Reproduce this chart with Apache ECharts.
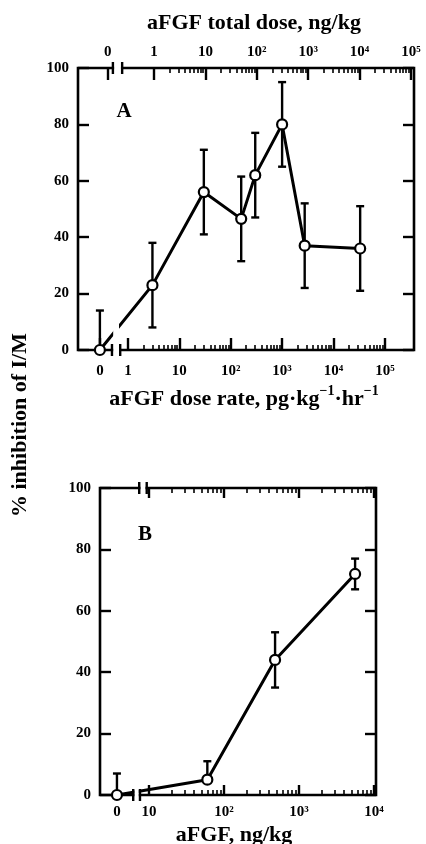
<!DOCTYPE html>
<html><head><meta charset="utf-8">
<script src="https://cdn.jsdelivr.net/npm/echarts@6/dist/echarts.min.js"></script>
<style>html,body{margin:0;padding:0;background:#fff}#c{width:426px;height:844px}</style>
</head><body><div id="c"></div>
<script>
// ---------- Panel A data (dose rate, pg·kg⁻¹·hr⁻¹) ----------
const doseRateA = [0, 3, 30, 160, 300, 1000, 2750, 33000];
const inhibA    = [0, 23, 56, 46.5, 62, 80, 37, 36];
const errLowA   = [0, 15, 15, 15, 15, 15, 15, 15];
const errHighA  = [14, 15, 15, 15, 15, 15, 15, 15];
const tickLabelsRateA  = ['0', '1', '10', '10²', '10³', '10⁴', '10⁵'];
const tickLabelsTotalA = ['0', '1', '10', '10²', '10³', '10⁴', '10⁵'];

// ---------- Panel B data (aFGF, ng/kg) ----------
const doseB    = [0, 60, 480, 5600];
const inhibB   = [0, 5, 44, 72];
const errLowB  = [0, 0, 9, 5];
const errHighB = [7, 6, 9, 5];
const tickLabelsB = ['0', '10', '10²', '10³', '10⁴'];

const yTicks = [0, 20, 40, 60, 80, 100];

// ---------- layout constants (log10 units of each axis) ----------
const A_MIN = -0.971, A_MAX = 5.566;          // bottom axis of A
const TOP_SHIFT = 0.508;                      // log10 offset between rate and total dose axes
const ZERO_A = -0.545, ZERO_TOP = -0.9;
const B_MIN = 0.347, B_MAX = 4.027, ZERO_B = 0.573;
const BRK_A_BOT = [-0.31, -0.15], BRK_A_TOP = [-0.80, -0.62];
const BRK_B_BOT = [0.79, 0.88], BRK_B_TOP = [0.87, 0.97];

const xA = d => d > 0 ? Math.log10(d) : ZERO_A;
const xB = d => d > 0 ? Math.log10(d) : ZERO_B;

const FONT = 'Liberation Serif';
const minorVals = (k0, k1) => { const r = []; for (let k = k0; k <= k1; k++) for (let m = 2; m <= 9; m++) r.push(k + Math.log10(m)); return r; };
const fmt = (pos, labels) => v => { const i = pos.findIndex(p => Math.abs(p - v) < 1e-3); return i >= 0 ? labels[i] : ''; };

const posA = [ZERO_A, 0, 1, 2, 3, 4, 5];
const posTop = [ZERO_TOP, 0, 1, 2, 3, 4, 5];
const posB = [ZERO_B, 1, 2, 3, 4];

const labelStyle = { fontFamily: FONT, fontWeight: 'bold', fontSize: 15, color: '#000' };
const tickLine = { color: '#000', width: 2.4 };
const minorLine = { color: '#000', width: 1.6 };

function xAxisDef(grid, pos, min, max, ticks, len, labels) {
  return {
    type: 'value', gridIndex: grid, position: pos, min, max,
    axisLine: { show: false, onZero: false }, splitLine: { show: false },
    axisTick: { show: true, inside: true, length: len, customValues: ticks, lineStyle: len > 8 ? tickLine : minorLine },
    axisLabel: labels ? Object.assign({ show: true, customValues: labels.pos, formatter: fmt(labels.pos, labels.text), margin: labels.margin }, labelStyle) : { show: false }
  };
}
function yAxisDef(grid, pos, showLabel) {
  return {
    type: 'value', gridIndex: grid, position: pos, min: 0, max: 100, interval: 20,
    axisLine: { show: false, onZero: false }, splitLine: { show: false },
    axisTick: { show: true, inside: true, length: 11, lineStyle: tickLine },
    axisLabel: showLabel ? Object.assign({ show: true, margin: 9 }, labelStyle) : { show: false }
  };
}

function errRender(params, api) {
  const x = api.value(0), y = api.value(1), lo = api.value(2), hi = api.value(3);
  const t = api.coord([x, y + hi]);
  const b = api.coord([x, y - lo]);
  const st = { stroke: '#000', lineWidth: 2.4 };
  const w = 4;
  const ch = [{ type: 'line', shape: { x1: t[0], y1: b[1], x2: t[0], y2: t[1] }, style: st }];
  if (hi > 0) ch.push({ type: 'line', shape: { x1: t[0] - w, y1: t[1], x2: t[0] + w, y2: t[1] }, style: st });
  if (lo > 0) ch.push({ type: 'line', shape: { x1: b[0] - w, y1: b[1], x2: b[0] + w, y2: b[1] }, style: st });
  return { type: 'group', children: ch };
}

const lineStyleCommon = {
  type: 'line', symbol: 'circle', symbolSize: 10, clip: false, z: 5,
  itemStyle: { color: '#fff', borderColor: '#000', borderWidth: 2.2 },
  lineStyle: { color: '#000', width: 3 },
  emphasis: { disabled: true }
};

const chart = echarts.init(document.getElementById('c'), null, { renderer: 'canvas' });
chart.setOption({
  animation: false,
  backgroundColor: '#fff',
  grid: [
    { left: 78, top: 68, width: 336, height: 282, show: true, borderColor: '#000', borderWidth: 2.6, backgroundColor: 'transparent' },
    { left: 100, top: 488, width: 276, height: 307, show: true, borderColor: '#000', borderWidth: 2.6, backgroundColor: 'transparent' }
  ],
  xAxis: [
    xAxisDef(0, 'bottom', A_MIN, A_MAX, [ZERO_A, 0, 1, 2, 3, 4, 5], 12, { pos: posA, text: tickLabelsRateA, margin: 14 }),
    xAxisDef(0, 'bottom', A_MIN, A_MAX, minorVals(0, 4), 5),
    xAxisDef(0, 'top', A_MIN - TOP_SHIFT, A_MAX - TOP_SHIFT, [ZERO_TOP, 0, 1, 2, 3, 4, 5], 12, { pos: posTop, text: tickLabelsTotalA, margin: 8 }),
    xAxisDef(0, 'top', A_MIN - TOP_SHIFT, A_MAX - TOP_SHIFT, minorVals(0, 4), 5),
    xAxisDef(1, 'bottom', B_MIN, B_MAX, [1, 2, 3, 4], 10, { pos: posB, text: tickLabelsB, margin: 10 }),
    xAxisDef(1, 'bottom', B_MIN, B_MAX, minorVals(1, 3), 5),
    xAxisDef(1, 'top', B_MIN, B_MAX, [1, 2, 3, 4], 10),
    xAxisDef(1, 'top', B_MIN, B_MAX, minorVals(1, 3), 5)
  ],
  yAxis: [
    yAxisDef(0, 'left', true), yAxisDef(0, 'right', false),
    yAxisDef(1, 'left', true), yAxisDef(1, 'right', false)
  ],
  series: [
    { type: 'custom', xAxisIndex: 0, yAxisIndex: 0, renderItem: errRender, encode: { x: 0, y: 1 }, z: 3,
      data: doseRateA.map((d, i) => [xA(d), inhibA[i], errLowA[i], errHighA[i]]) },
    Object.assign({}, lineStyleCommon, { xAxisIndex: 0, yAxisIndex: 0, data: doseRateA.map((d, i) => [xA(d), inhibA[i]]) }),
    { type: 'custom', xAxisIndex: 4, yAxisIndex: 2, renderItem: errRender, encode: { x: 0, y: 1 }, z: 3,
      data: doseB.map((d, i) => [xB(d), inhibB[i], errLowB[i], errHighB[i]]) },
    Object.assign({}, lineStyleCommon, { xAxisIndex: 4, yAxisIndex: 2, data: doseB.map((d, i) => [xB(d), inhibB[i]]) })
  ]
});

// ---------- decorations: axis breaks and texts ----------
function breakEls(xIdx, yIdx, vals, yVal, above, below) {
  const x1 = chart.convertToPixel({ xAxisIndex: xIdx }, vals[0]);
  const x2 = chart.convertToPixel({ xAxisIndex: xIdx }, vals[1]);
  const y = chart.convertToPixel({ yAxisIndex: yIdx }, yVal);
  const els = [];
  els.push({ type: 'rect', z: 100, shape: { x: x1 + 1.2, y: y - above, width: x2 - x1 - 2.4, height: above + below }, style: { fill: '#fff' } });
  [x1, x2].forEach(x => els.push({ type: 'line', z: 101, shape: { x1: x, y1: y - 6, x2: x, y2: y + 6 }, style: { stroke: '#000', lineWidth: 2.4 } }));
  return els;
}
const txt = (x, y, text, size, extra) => Object.assign({
  type: 'text', z: 110, x, y,
  style: Object.assign({ text, fontFamily: FONT, fontWeight: 'bold', fontSize: size, fill: '#000', align: 'center', verticalAlign: 'middle' }, extra || {})
});

const graphics = [].concat(
  breakEls(0, 0, BRK_A_BOT, 0, 30, 4),
  breakEls(2, 0, BRK_A_TOP, 100, 4, 4),
  breakEls(4, 2, BRK_B_BOT, 0, 10, 4),
  breakEls(6, 2, BRK_B_TOP, 100, 4, 4),
  [
    txt(254, 23, 'aFGF total dose, ng/kg', 22),
    { type: 'text', z: 110, x: 244, y: 397,
      style: { text: '{n|aFGF dose rate, pg·kg}{s|−1}{n|·hr}{s|−1}', align: 'center', verticalAlign: 'middle',
        rich: { n: { fontFamily: FONT, fontWeight: 'bold', fontSize: 22, lineHeight: 26, fill: '#000', verticalAlign: 'bottom' },
                s: { fontFamily: FONT, fontWeight: 'bold', fontSize: 14, lineHeight: 14, fill: '#000', verticalAlign: 'top' } } } },
    txt(234, 835, 'aFGF, ng/kg', 22),
    Object.assign(txt(20, 425, '% inhibition of I/M', 22), { rotation: Math.PI / 2 }),
    txt(124, 112, 'A', 21),
    txt(145, 535, 'B', 21)
  ]
);
chart.setOption({ graphic: { elements: graphics } });
</script>
</body></html>
